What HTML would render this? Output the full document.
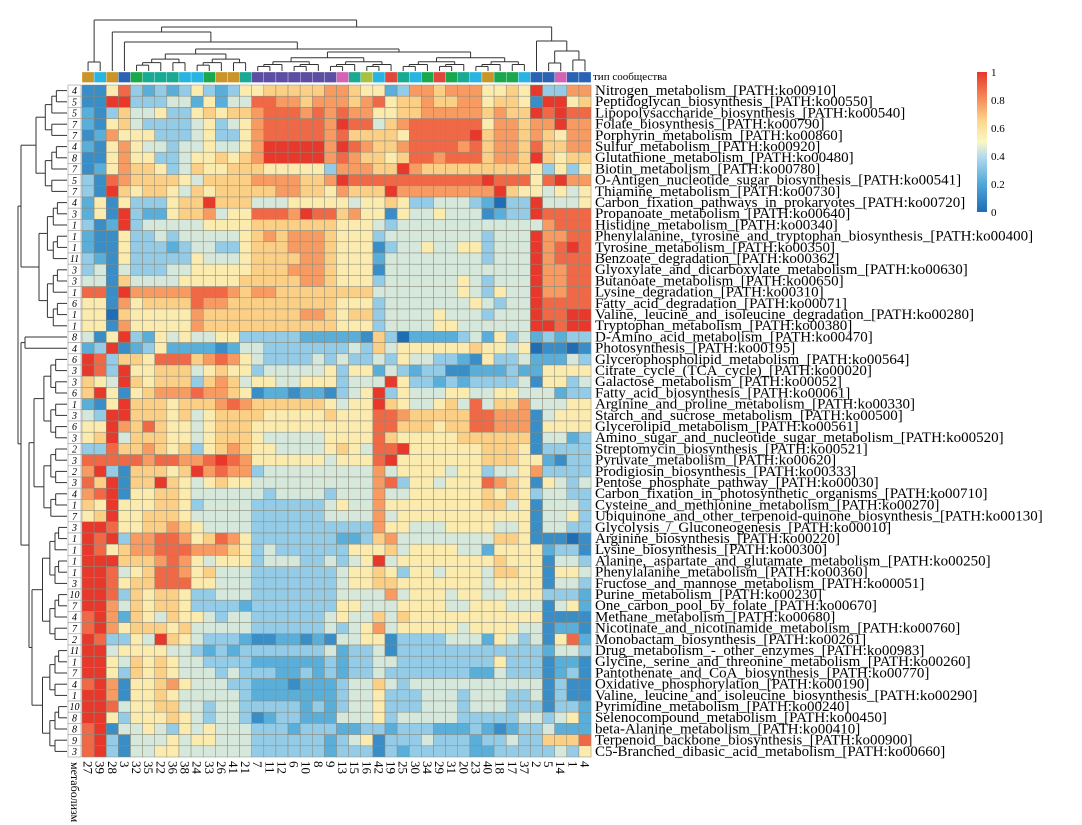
<!DOCTYPE html>
<html><head><meta charset="utf-8">
<style>
html,body{margin:0;padding:0;background:#fff;}
svg{display:block;}
text{font-family:"Liberation Serif","Noto Serif CJK SC",serif;}
</style></head>
<body>
<svg id="chart" width="1082" height="825" viewBox="0 0 1082 825" xmlns="http://www.w3.org/2000/svg">
  <g id="topTree"></g>
  <g id="leftTree"></g>
  <g id="colBar"></g>
  <text x="593" y="80" font-size="11">тип сообщества</text>
  <g id="rowAnn"></g>
  <g id="cells"></g>
  <g id="rowLabels"></g>
  <g id="colLabels"></g>
  <text transform="translate(71,762) rotate(90)" font-size="12">метаболизм</text>
  <g id="legend"></g>
</svg>
<script>
const rowNames=["Nitrogen_metabolism_[PATH:ko00910]","Peptidoglycan_biosynthesis_[PATH:ko00550]","Lipopolysaccharide_biosynthesis_[PATH:ko00540]","Folate_biosynthesis_[PATH:ko00790]","Porphyrin_metabolism_[PATH:ko00860]","Sulfur_metabolism_[PATH:ko00920]","Glutathione_metabolism_[PATH:ko00480]","Biotin_metabolism_[PATH:ko00780]","O-Antigen_nucleotide_sugar_biosynthesis_[PATH:ko00541]","Thiamine_metabolism_[PATH:ko00730]","Carbon_fixation_pathways_in_prokaryotes_[PATH:ko00720]","Propanoate_metabolism_[PATH:ko00640]","Histidine_metabolism_[PATH:ko00340]","Phenylalanine,_tyrosine_and_tryptophan_biosynthesis_[PATH:ko00400]","Tyrosine_metabolism_[PATH:ko00350]","Benzoate_degradation_[PATH:ko00362]","Glyoxylate_and_dicarboxylate_metabolism_[PATH:ko00630]","Butanoate_metabolism_[PATH:ko00650]","Lysine_degradation_[PATH:ko00310]","Fatty_acid_degradation_[PATH:ko00071]","Valine,_leucine_and_isoleucine_degradation_[PATH:ko00280]","Tryptophan_metabolism_[PATH:ko00380]","D-Amino_acid_metabolism_[PATH:ko00470]","Photosynthesis_[PATH:ko00195]","Glycerophospholipid_metabolism_[PATH:ko00564]","Citrate_cycle_(TCA_cycle)_[PATH:ko00020]","Galactose_metabolism_[PATH:ko00052]","Fatty_acid_biosynthesis_[PATH:ko00061]","Arginine_and_proline_metabolism_[PATH:ko00330]","Starch_and_sucrose_metabolism_[PATH:ko00500]","Glycerolipid_metabolism_[PATH:ko00561]","Amino_sugar_and_nucleotide_sugar_metabolism_[PATH:ko00520]","Streptomycin_biosynthesis_[PATH:ko00521]","Pyruvate_metabolism_[PATH:ko00620]","Prodigiosin_biosynthesis_[PATH:ko00333]","Pentose_phosphate_pathway_[PATH:ko00030]","Carbon_fixation_in_photosynthetic_organisms_[PATH:ko00710]","Cysteine_and_methionine_metabolism_[PATH:ko00270]","Ubiquinone_and_other_terpenoid-quinone_biosynthesis_[PATH:ko00130]","Glycolysis_/_Gluconeogenesis_[PATH:ko00010]","Arginine_biosynthesis_[PATH:ko00220]","Lysine_biosynthesis_[PATH:ko00300]","Alanine,_aspartate_and_glutamate_metabolism_[PATH:ko00250]","Phenylalanine_metabolism_[PATH:ko00360]","Fructose_and_mannose_metabolism_[PATH:ko00051]","Purine_metabolism_[PATH:ko00230]","One_carbon_pool_by_folate_[PATH:ko00670]","Methane_metabolism_[PATH:ko00680]","Nicotinate_and_nicotinamide_metabolism_[PATH:ko00760]","Monobactam_biosynthesis_[PATH:ko00261]","Drug_metabolism_-_other_enzymes_[PATH:ko00983]","Glycine,_serine_and_threonine_metabolism_[PATH:ko00260]","Pantothenate_and_CoA_biosynthesis_[PATH:ko00770]","Oxidative_phosphorylation_[PATH:ko00190]","Valine,_leucine_and_isoleucine_biosynthesis_[PATH:ko00290]","Pyrimidine_metabolism_[PATH:ko00240]","Selenocompound_metabolism_[PATH:ko00450]","beta-Alanine_metabolism_[PATH:ko00410]","Terpenoid_backbone_biosynthesis_[PATH:ko00900]","C5-Branched_dibasic_acid_metabolism_[PATH:ko00660]"];
const colNames=["27","39","28","3","32","35","22","36","38","24","33","26","41","21","7","11","12","6","10","8","9","13","15","16","42","19","25","30","34","29","31","20","23","40","18","17","37","2","5","14","1","4"];
const rowGroups=[4,5,5,7,7,4,8,7,5,7,4,3,1,1,1,11,3,3,1,6,1,1,8,4,6,3,3,6,1,3,6,3,2,3,2,3,4,1,7,3,1,1,1,1,3,10,7,4,7,2,11,1,7,4,1,10,8,8,9,3];
const colTypes=["o","c","o","b","g","t","t","t","c","c","g","o","o","t","p","p","p","p","p","p","p","k","t","y","c","r","t","c","g","r","g","t","c","o","g","g","c","b","b","k","b","b"];
const levels=[
"1 1 5 8 3 2 3 2 3 5 3 2 3 5 5 6 6 6 6 6 7 7 6 5 5 2 3 7 7 6 7 7 7 5 5 6 5 9 3 3 7 7",
"1 1 9 9 3 3 3 4 4 2 5 2 4 4 8 8 7 7 6 7 7 7 6 7 8 5 6 6 7 6 6 7 7 5 6 6 5 1 9 9 5 6",
"2 1 3 6 4 4 5 3 3 5 6 5 6 6 7 8 8 8 7 8 7 8 7 7 5 5 6 6 7 7 7 7 7 6 7 6 6 9 8 9 8 8",
"2 1 5 6 4 3 3 3 3 4 5 3 4 5 7 8 8 8 8 8 7 9 8 8 4 6 7 8 8 8 8 8 8 5 7 7 6 7 7 9 7 7",
"1 2 7 5 5 5 3 3 3 4 5 3 3 5 7 8 8 8 8 8 7 8 6 6 6 6 5 8 8 8 8 8 9 6 7 7 6 7 6 5 7 7",
"2 1 5 7 5 4 4 3 4 4 5 4 4 5 7 9 9 9 9 9 7 9 8 7 6 6 7 8 8 8 8 7 8 6 7 7 6 8 6 6 7 7",
"1 1 5 7 5 5 3 3 4 5 5 6 5 6 7 9 9 9 9 9 7 8 7 6 6 5 6 8 8 7 8 8 8 6 7 7 6 9 6 5 6 6",
"1 2 5 7 6 6 5 3 4 6 5 5 6 6 6 5 5 5 5 5 3 7 7 7 6 6 9 7 6 6 6 6 6 6 6 6 6 5 3 5 3 5",
"3 1 8 7 6 6 6 6 5 4 6 6 6 6 7 7 7 7 6 6 7 9 8 8 8 8 8 8 8 8 8 8 8 9 8 8 8 5 8 9 7 7",
"3 1 9 6 5 6 6 5 4 6 5 6 6 6 6 6 7 7 6 6 5 7 6 6 6 9 7 7 7 7 7 7 7 7 9 6 5 5 4 5 4 5",
"2 5 1 5 3 3 3 5 6 6 9 6 6 6 4 4 4 5 5 5 5 5 4 5 5 6 5 3 3 4 4 4 3 2 0 3 3 9 4 4 4 5",
"2 5 1 9 3 2 2 5 6 6 7 4 5 5 8 8 8 7 9 8 8 6 7 5 5 1 5 4 4 5 4 4 4 1 2 3 3 9 8 8 8 8",
"3 1 2 9 3 4 4 4 4 4 5 5 5 5 6 6 6 6 6 6 6 5 5 5 4 3 4 4 4 4 4 4 4 4 4 4 4 4 7 8 8 8",
"2 1 1 5 3 3 4 3 4 4 4 4 4 5 6 7 6 7 7 7 6 5 5 5 3 4 4 4 4 4 4 4 4 3 4 4 4 9 7 7 8 8",
"2 1 1 5 3 3 3 2 3 4 4 3 3 5 6 6 6 7 7 7 6 5 5 5 1 3 4 4 5 4 4 5 5 3 4 4 4 9 7 8 9 8",
"3 2 1 5 3 3 3 3 3 5 4 4 4 5 6 6 6 6 7 7 6 5 5 5 2 4 4 4 4 4 4 4 4 3 4 4 4 9 7 8 8 8",
"3 4 1 4 3 3 3 4 4 5 5 5 5 5 6 6 6 7 7 7 6 5 5 5 1 4 4 4 4 4 4 4 4 4 4 4 4 9 7 7 8 8",
"4 4 1 6 4 4 4 4 5 5 5 5 5 6 6 6 6 6 7 7 6 5 5 5 3 4 4 4 4 4 4 5 4 3 4 4 4 9 7 7 8 8",
"8 8 1 9 7 7 7 7 7 8 8 8 7 6 7 7 6 6 6 6 6 6 6 6 4 4 4 4 4 4 4 5 4 3 5 4 4 9 7 7 8 8",
"5 5 1 7 5 6 6 6 6 8 7 7 6 6 6 6 6 6 6 6 6 5 5 5 3 4 4 4 4 4 4 4 5 4 3 4 4 9 8 8 8 8",
"5 5 0 6 5 5 5 5 5 7 6 6 6 6 6 6 6 6 7 7 6 5 6 6 3 4 4 4 4 5 4 4 4 3 4 4 4 9 8 8 9 9",
"5 5 1 7 5 5 5 5 5 7 6 6 6 6 6 6 6 6 6 6 6 5 5 5 3 4 4 4 4 5 5 4 4 4 4 4 4 9 9 8 9 9",
"4 1 5 9 3 2 5 4 5 4 4 5 5 3 3 3 3 3 2 2 2 2 2 1 6 3 0 2 2 2 2 3 4 2 5 3 4 2 3 2 3 3",
"2 3 9 1 2 3 5 2 2 2 2 1 2 4 4 3 3 3 3 3 3 3 4 3 6 4 5 5 5 5 5 5 6 5 5 4 5 0 1 1 0 1",
"9 8 3 6 6 5 8 8 8 6 7 8 7 5 4 3 3 3 3 4 3 4 3 3 4 3 5 4 4 3 3 2 1 5 3 3 4 2 2 2 4 3",
"9 8 3 9 5 5 6 6 6 4 5 6 5 5 3 4 4 4 4 4 5 3 5 5 2 4 3 2 3 3 1 1 2 2 2 3 2 2 5 5 5 5",
"6 5 4 9 6 5 6 6 6 3 6 7 6 4 5 5 4 4 5 5 5 3 4 4 4 9 5 3 3 2 3 2 3 3 3 3 4 1 5 5 3 4",
"6 9 5 1 5 6 7 7 7 8 7 7 6 5 1 2 2 1 2 2 1 3 4 5 9 3 5 4 4 4 5 5 4 4 5 5 4 4 4 2 3 3",
"2 1 5 9 6 6 6 5 6 6 6 7 8 7 6 6 6 6 6 6 5 4 5 5 9 6 5 4 4 5 6 4 8 4 6 6 7 4 4 4 5 5",
"4 3 9 9 6 6 6 5 6 4 5 6 6 6 6 5 5 5 5 5 6 5 5 5 8 8 7 6 6 6 6 6 8 8 7 7 7 1 4 5 5 5",
"5 5 9 7 6 8 6 5 5 4 5 6 6 6 5 5 5 5 5 5 5 5 5 5 8 8 6 6 6 5 6 6 8 8 7 7 7 1 5 5 5 5",
"5 6 9 4 6 6 6 5 5 4 5 6 6 6 5 4 4 4 4 4 5 5 5 5 8 6 5 5 5 5 5 6 6 6 6 6 6 1 4 4 2 3",
"3 3 8 6 6 7 6 5 6 3 5 6 7 6 5 5 4 4 4 4 5 6 5 4 8 8 9 5 5 5 5 5 5 6 6 6 5 1 3 3 3 3",
"8 8 8 8 8 7 8 8 7 7 8 9 8 7 5 5 5 5 5 5 4 5 5 5 8 9 5 5 5 5 5 5 5 6 6 6 5 5 2 1 3 3",
"7 9 3 1 6 6 6 5 6 9 7 8 7 7 3 4 4 4 4 4 4 4 4 4 7 4 5 5 5 5 4 5 5 3 4 4 5 7 3 3 3 3",
"8 6 9 1 6 6 9 6 5 4 5 6 5 5 4 4 4 4 4 4 4 4 4 4 7 8 3 5 5 4 5 5 5 8 7 6 5 1 5 4 3 4",
"7 8 9 1 5 5 6 6 5 4 4 4 4 4 4 3 4 4 4 4 3 4 4 4 7 4 4 5 5 5 5 5 5 6 5 6 5 3 4 4 3 3",
"6 5 9 5 5 5 6 6 5 3 4 4 4 4 3 3 3 3 3 3 4 5 4 4 7 5 5 5 5 5 5 5 5 6 6 4 5 1 4 4 4 3",
"5 6 9 5 5 6 6 6 5 4 4 4 4 4 3 3 3 3 3 3 4 4 4 4 7 4 5 5 5 5 5 5 5 5 5 5 5 1 4 4 5 3",
"9 9 8 5 5 6 6 7 6 5 4 4 4 4 3 3 3 3 3 3 3 3 3 3 7 5 5 4 4 4 5 5 5 5 4 4 5 1 4 4 3 3",
"9 8 9 3 7 7 8 8 7 5 6 8 7 5 3 3 3 3 3 3 3 2 2 3 6 7 4 4 4 4 4 4 4 4 6 6 5 1 1 1 0 1",
"9 8 5 6 7 7 8 8 8 7 7 7 6 5 3 4 3 3 3 3 3 3 5 5 5 6 4 5 5 5 5 4 4 2 5 5 5 5 2 3 3 1",
"9 9 9 6 6 6 7 8 7 5 4 5 5 5 3 4 4 4 3 3 4 3 4 5 9 4 5 5 5 5 5 5 5 5 6 5 5 5 1 4 4 3",
"9 9 8 4 5 6 8 8 7 5 6 4 4 4 3 3 3 3 3 3 3 4 5 5 6 5 3 5 5 4 5 5 5 4 6 6 5 5 1 5 5 4",
"9 9 8 5 6 6 8 8 8 5 5 4 4 4 3 3 3 3 3 3 3 4 5 5 6 6 5 5 5 5 5 5 5 4 5 5 5 5 1 4 4 3",
"9 9 8 3 6 5 6 6 5 3 3 4 4 4 3 3 3 3 3 3 3 4 4 4 4 7 4 5 5 5 4 5 5 4 4 5 5 5 3 3 3 2",
"9 9 7 4 6 5 6 6 5 3 3 3 3 2 3 3 3 3 3 3 3 5 5 4 4 4 5 5 5 5 4 4 5 5 5 4 4 4 1 4 5 2",
"8 9 7 2 6 5 4 6 5 5 4 3 4 4 3 3 3 3 3 3 4 5 4 4 6 4 6 5 5 5 5 5 5 5 5 5 5 5 1 1 1 1",
"8 9 7 5 6 6 6 5 6 4 4 4 4 4 3 3 3 3 3 3 4 3 4 5 7 4 5 5 5 5 5 4 5 5 5 5 4 4 1 2 2 1",
"9 8 3 3 5 4 9 6 5 4 3 3 3 2 1 1 2 2 1 2 1 4 4 5 5 1 3 3 3 3 4 4 4 2 5 4 3 4 1 5 8 2",
"9 9 4 5 5 5 5 4 4 3 2 3 2 3 3 3 3 3 3 3 4 2 3 3 4 1 3 3 3 3 3 3 3 3 3 3 3 3 2 4 4 3",
"9 9 5 4 6 5 6 5 4 4 3 3 3 3 2 2 2 2 2 2 3 2 3 3 4 4 3 3 3 3 3 3 3 3 5 3 3 3 1 2 2 1",
"9 9 5 3 6 5 6 5 4 4 4 3 4 3 3 3 2 2 3 2 3 2 3 3 4 3 3 3 3 3 3 3 2 2 4 3 3 3 1 2 3 1",
"8 9 7 1 5 5 6 7 5 4 4 4 3 3 2 2 2 1 2 2 2 3 4 4 6 4 3 4 4 4 4 4 4 4 4 4 4 4 1 3 1 1",
"9 9 7 1 5 5 6 5 4 4 4 4 4 3 2 2 2 2 2 2 2 3 4 4 5 3 3 3 4 4 4 3 4 4 4 3 3 4 1 3 1 1",
"9 9 8 4 5 5 6 6 4 4 3 4 4 3 3 3 3 3 2 3 2 3 4 4 5 3 3 3 4 4 4 3 4 4 4 3 3 3 1 3 3 2",
"9 9 5 3 5 5 5 6 5 4 3 4 4 3 1 2 3 3 2 2 2 4 4 4 5 3 4 4 4 4 4 3 3 3 3 3 4 4 3 4 5 2",
"8 9 1 4 4 5 4 3 5 4 5 4 4 4 3 3 3 2 3 3 3 2 2 3 3 2 3 3 3 2 2 2 3 2 1 2 3 3 4 2 2 2",
"8 9 3 1 4 4 4 5 4 5 5 4 4 4 3 3 3 3 3 3 2 3 4 5 1 3 3 3 4 3 3 3 2 3 3 4 3 3 6 6 6 8",
"8 9 3 1 4 4 5 5 4 4 4 4 4 4 3 3 3 3 3 3 2 3 3 3 1 3 2 3 3 3 3 3 2 2 3 3 3 3 3 4 3 5"
];
const legendTicks=[0,0.2,0.4,0.6,0.8,1];

const NS="http://www.w3.org/2000/svg";
const X0=82, CW=12.12, Y0=85, RH=11.2;
const xPos=i=>X0+i*CW;
const yPos=j=>Y0+j*RH;
const typeColor={o:"#c99428",c:"#27b4e2",b:"#2a62b4",g:"#1aa84c",t:"#18aa92",p:"#5d4ea3",k:"#d462b5",y:"#a8c23f",r:"#e2473b"};
const stops=[[0,[30,109,181]],[0.2,[79,168,216]],[0.4,[182,220,238]],[0.5,[251,247,196]],[0.65,[253,215,140]],[0.8,[246,144,92]],[1,[232,55,43]]];
function color(v){
  for(let k=1;k<stops.length;k++){
    if(v<=stops[k][0]){const a=stops[k-1],b=stops[k];const t=(v-a[0])/(b[0]-a[0]);
      const c=a[1].map((x,i)=>Math.round(x+(b[1][i]-x)*t));return `rgb(${c[0]},${c[1]},${c[2]})`;}
  }
  return "rgb(232,55,43)";
}
function mk(tag,attrs,parent){const e=document.createElementNS(NS,tag);for(const k in attrs)e.setAttribute(k,attrs[k]);parent.appendChild(e);return e;}

const values=levels.map(r=>r.trim().split(/\s+/).map(d=>Number(d)/9));
const cells=document.getElementById("cells");
values.forEach((row,j)=>row.forEach((v,i)=>{
  const r=mk("rect",{x:xPos(i),y:yPos(j),width:CW,height:RH,fill:color(v),stroke:"#8a8a7a","stroke-width":0.5},cells);
  
  
}));

const colBar=document.getElementById("colBar");
colTypes.forEach((t,i)=>{
  const r=mk("rect",{x:xPos(i),y:72,width:CW,height:10.5,fill:typeColor[t],stroke:"#ffffff","stroke-width":0.3},colBar);
  
  
});

const rowAnn=document.getElementById("rowAnn");
rowGroups.forEach((g,j)=>{
  const r=mk("rect",{x:68,y:yPos(j),width:13,height:RH,fill:"#fff",stroke:"#999","stroke-width":0.6},rowAnn);
  
  
  const t=mk("text",{x:74.5,y:yPos(j)+9.2,"font-size":10,"font-style":"italic","text-anchor":"middle"},rowAnn);
  t.textContent=g;
  
  
});

const rowLabels=document.getElementById("rowLabels");
rowNames.forEach((n,j)=>{
  const t=mk("text",{x:595,y:yPos(j)+10,"font-size":15},rowLabels);
  t.textContent=n;
  
  
});
const colLabels=document.getElementById("colLabels");
colNames.forEach((n,i)=>{
  const t=mk("text",{"font-size":13,transform:`translate(${xPos(i)+CW/2-4.5},761) rotate(90)`},colLabels);
  t.textContent=n;
  
  
});

function n(h,c){return {h:h,c:c};}
function auto(a,b,h,leaf){
  if(a===b)return a;
  const m=Math.floor((a+b)/2);
  const ch=h+(leaf-h)*0.3;
  return n(h,[auto(a,m,ch,leaf),auto(m+1,b,ch,leaf)]);
}
function draw(node,g,pos,leafLev,horiz){
  if(typeof node==="number")return {p:pos(node),l:leafLev};
  const a=draw(node.c[0],g,pos,leafLev,horiz), b=draw(node.c[1],g,pos,leafLev,horiz);
  const lines=horiz?[[a.p,a.l,a.p,node.h],[b.p,b.l,b.p,node.h],[a.p,node.h,b.p,node.h]]
                   :[[a.l,a.p,node.h,a.p],[b.l,b.p,node.h,b.p],[node.h,a.p,node.h,b.p]];
  lines.forEach(L=>{const e=mk("line",{x1:L[0],y1:L[1],x2:L[2],y2:L[3],stroke:"#333","stroke-width":1},g);
    
    });
  return {p:(a.p+b.p)/2,l:node.h};
}
const LT=71;
const topTree=n(20,[auto(0,1,62,LT),n(27,[n(32,[2,n(42,[3,n(49,[auto(4,13,54,LT),auto(14,36,52,LT)])])]),n(41,[37,n(51,[auto(38,39,63,LT),auto(40,41,60,LT)])])])]);
draw(topTree,document.getElementById("topTree"),i=>xPos(i)+CW/2,LT,true);
const LL=67;
const leftTree=n(18,[n(21,[auto(0,9,36,LL),auto(10,21,39,LL)]),n(21,[n(25,[22,23]),n(29,[auto(24,38,34,LL),auto(39,59,32,LL)])])]);
draw(leftTree,document.getElementById("leftTree"),j=>yPos(j)+RH/2,LL,false);

const lg=document.getElementById("legend");
const defs=mk("defs",{},lg);
const grad=mk("linearGradient",{id:"lgrad",x1:0,y1:1,x2:0,y2:0},defs);
stops.forEach(s=>mk("stop",{offset:s[0],"stop-color":`rgb(${s[1].join(',')})`},grad));
const bar=mk("rect",{x:977,y:72,width:10,height:140,fill:"url(#lgrad)"},lg);


legendTicks.forEach(v=>{
  const t=mk("text",{x:991,y:212-v*140+4,"font-size":11},lg);
  t.textContent=String(v);
  
  
});
</script>
</body></html>
